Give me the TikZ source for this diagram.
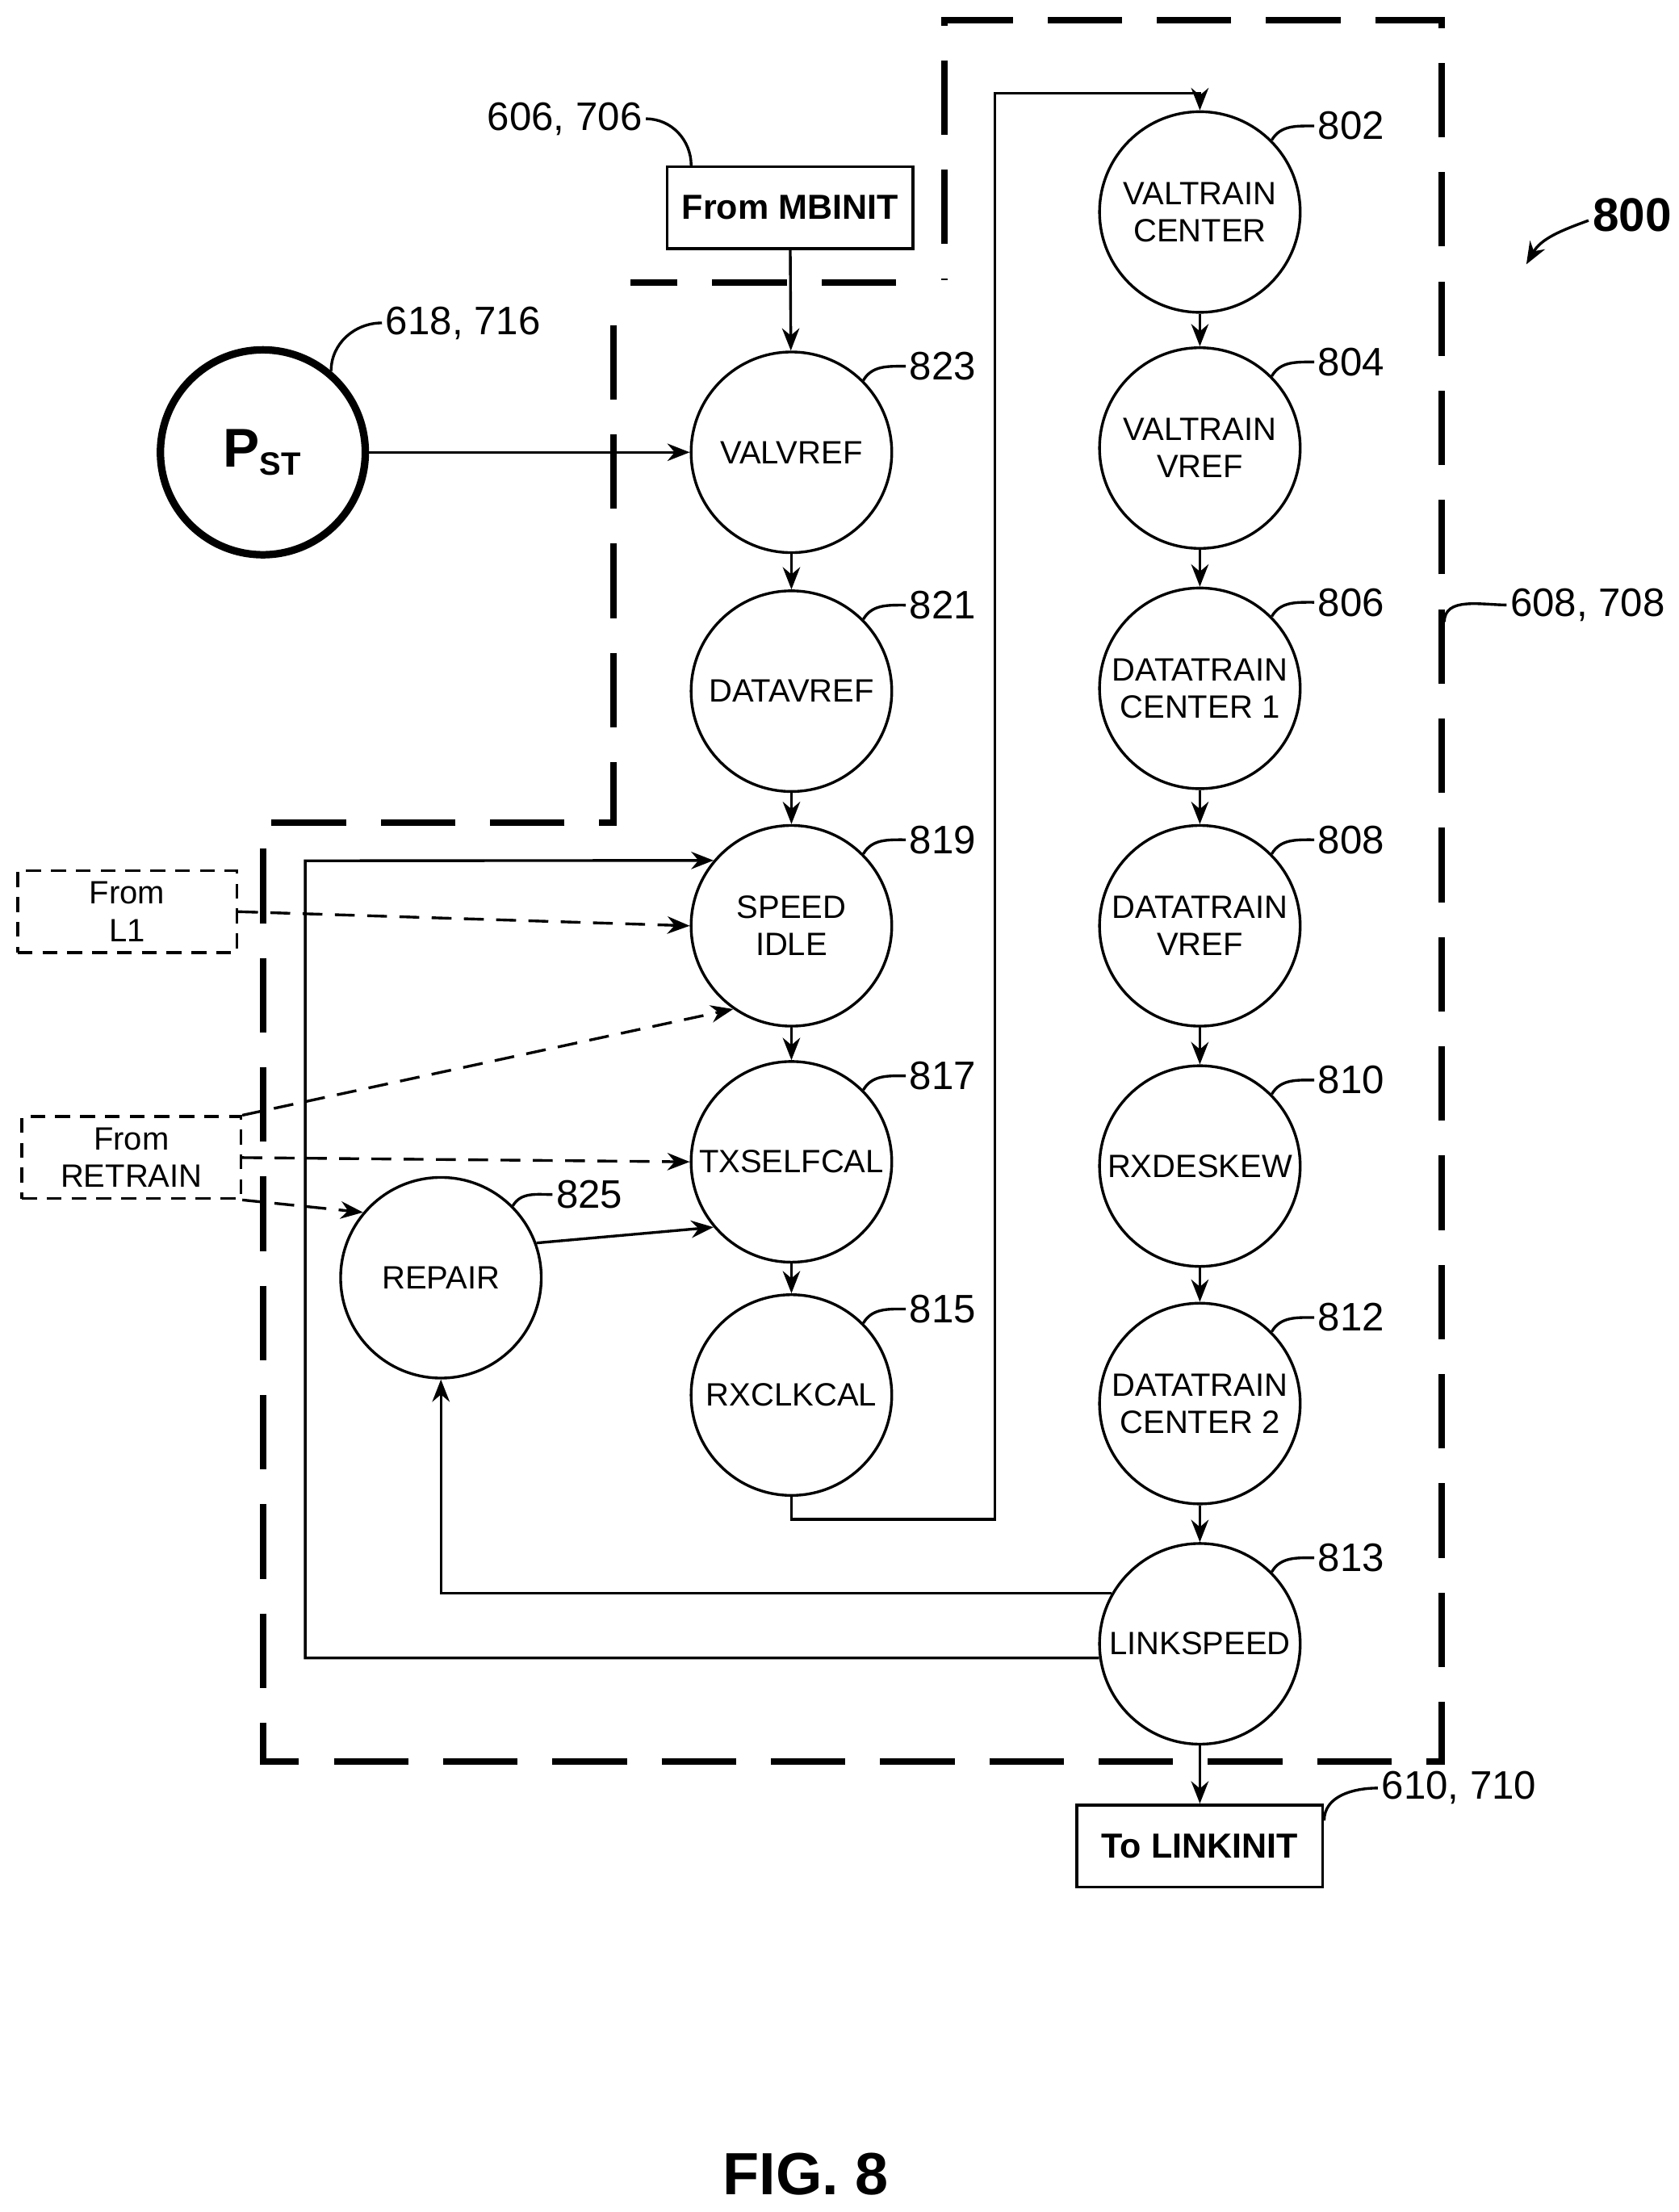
\documentclass[tikz,border=0pt]{standalone}
\usepackage{fontspec}
\setmainfont{Liberation Sans}
\usetikzlibrary{arrows.meta}
\begin{document}
\begin{tikzpicture}[x=0.02cm,y=-0.02cm,line width=1.1pt,>={Stealth[length=9pt,width=7pt]},
  state/.style = {draw, circle, minimum size=2.84cm, inner sep=0pt, align=center, font=\fontsize{13}{15}\selectfont},
  box/.style = {draw, minimum width=3.48cm, minimum height=1.16cm, font=\bfseries\fontsize{14}{16}\selectfont},
  dbox/.style = {draw, dash pattern=on 6pt off 4pt, minimum width=3.1cm, minimum height=1.16cm, align=center, font=\fontsize{13}{15}\selectfont},
  dline/.style = {->, dash pattern=on 8pt off 5pt},
  num/.style = {font=\fontsize{16}{18}\selectfont, anchor=west, inner sep=1pt},
  bound/.style = {line width=2.6pt, dash pattern=on 30pt off 14pt}]

\useasboundingbox (0,0) rectangle (1188,1565);

% left column
\node[state] (valvref)  at (560,320) {VALVREF};
\node[state] (datavref) at (560,489) {DATAVREF};
\node[state] (speed)    at (560,655) {SPEED\\IDLE};
\node[state] (txself)   at (560,822) {TXSELFCAL};
\node[state] (rxclk)    at (560,987) {RXCLKCAL};
\node[state] (repair)   at (312,904) {REPAIR};
\node[draw, circle, line width=3pt, minimum size=2.9cm, font=\bfseries\fontsize{22}{24}\selectfont] (pst) at (186,320) {P\textsubscript{\fontsize{13}{14}\selectfont ST}};

% right column
\node[state] (valc)   at (849,150)  {VALTRAIN\\CENTER};
\node[state] (valv)   at (849,317)  {VALTRAIN\\VREF};
\node[state] (dtc1)   at (849,487)  {DATATRAIN\\CENTER 1};
\node[state] (dtv)    at (849,655)  {DATATRAIN\\VREF};
\node[state] (rxdsk)  at (849,825)  {RXDESKEW};
\node[state] (dtc2)   at (849,993)  {DATATRAIN\\CENTER 2};
\node[state] (lspeed) at (849,1163) {LINKSPEED};

% boxes
\node[box] (mbinit) at (559,147) {From MBINIT};
\node[box] (linit) at (849,1306) {To LINKINIT};
\node[dbox] (froml1) at (90,645) {From\\L1};
\node[dbox] (fromrt) at (93,819) {From\\RETRAIN};

% boundary
\draw[bound] (634,200) -- (446,200);
\draw[bound] (434,230) -- (434,582) -- (186,582) -- (186,1246) -- (1020,1246) -- (1020,14) -- (668,14) -- (668,198);

% edges
\draw[->] (mbinit) -- (valvref);
\draw[->] (pst) -- (valvref);
\draw[->] (valvref) -- (datavref);
\draw[->] (datavref) -- (speed);
\draw[->] (speed) -- (txself);
\draw[->] (txself) -- (rxclk);
\draw[->] (rxclk.south) |- (704,1075) |- (849,66) -- (valc.north);
\draw[->] (valc) -- (valv);
\draw[->] (valv) -- (dtc1);
\draw[->] (dtc1) -- (dtv);
\draw[->] (dtv) -- (rxdsk);
\draw[->] (rxdsk) -- (dtc2);
\draw[->] (dtc2) -- (lspeed);
\draw[->] (lspeed) -- (linit);
\draw[->] (lspeed.150) -| (repair.south);
\draw[->] (lspeed.188) -| (216,609) -- (speed.140);
\draw[->] (repair.20) -- (txself.220);
\draw[dline] (froml1.east) -- (speed.west);
\draw[dline] (fromrt.north east) -- (speed.235);
\draw[dline] (fromrt.east) -- (txself.west);
\draw[dline] (fromrt.south east) -- (repair.140);

% numbers
\foreach \n/\t in {valvref/823, datavref/821, speed/819, txself/817, rxclk/815, valc/802, valv/804, dtc1/806, dtv/808, rxdsk/810, dtc2/812, lspeed/813}
  \draw (\n.45) to[out=60,in=180] ++(30,-10) node[num] {\t};
\draw (repair.45) to[out=60,in=180] ++(28,-8) node[num] {825};

\draw (mbinit.north west) ++(18,0) to[out=90,in=0] ++(-32,-33) node[num, anchor=east] {606, 706};
\draw (pst.50) to[out=90,in=180] ++(36,-34) node[num] {618, 716};
\draw (1022,440) to[out=90,in=180] ++(44,-12) node[num] {608, 708};
\draw (linit.north east) ++(0,12) to[out=90,in=180] ++(38,-23) node[num] {610, 710};

\node[font=\bfseries\fontsize{19}{21}\selectfont] (ref) at (1155,152) {800};
\draw[->] (1124,156) to[out=200,in=60] (1080,187);
\node[font=\bfseries\fontsize{24}{26}\selectfont] (fig) at (570,1538) {FIG. 8};
\end{tikzpicture}
\end{document}
